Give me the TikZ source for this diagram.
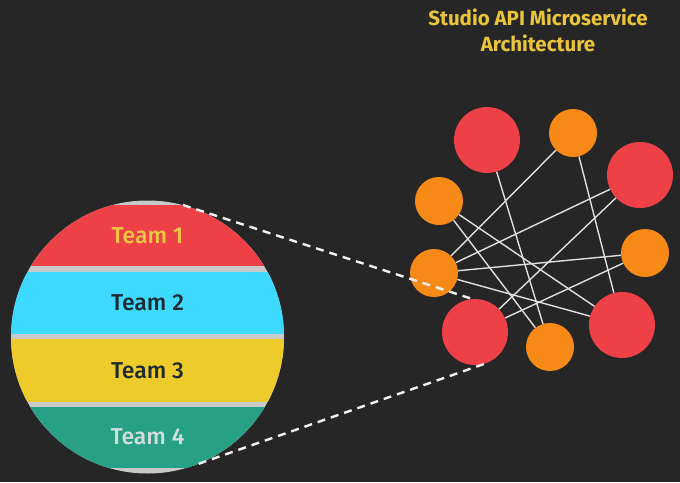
\documentclass[tikz,border=0pt]{standalone}
\usepackage{fontspec}
\setmainfont{Fira Sans}
\newfontfamily\teamfont{Fira Sans Medium}
\usetikzlibrary{positioning}
\definecolor{bgdark}{HTML}{262626}
\definecolor{titleyellow}{HTML}{EAC53A}
\definecolor{svcred}{HTML}{EE4047}
\definecolor{svcorange}{HTML}{F78A17}
\definecolor{bandred}{HTML}{EE4047}
\definecolor{bandcyan}{HTML}{3DD9FF}
\definecolor{bandyellow}{HTML}{ECCB2B}
\definecolor{bandteal}{HTML}{27A086}
\definecolor{sepgray}{HTML}{C9C9C9}
\definecolor{darktext}{HTML}{1E2A30}
\definecolor{paletext}{HTML}{D5DEDC}
\tikzset{bigsvc/.style={circle,fill=svcred,minimum size=66pt,inner sep=0pt}}
\tikzset{smallsvc/.style={circle,fill=svcorange,minimum size=48pt,inner sep=0pt}}
\tikzset{link/.style={draw=white!88!black,line width=1.4pt}}
\tikzset{zoomline/.style={draw=white!95!black,line width=2.4pt,dash pattern=on 8pt off 6pt}}
\tikzset{teamlabel/.style={font=\teamfont\fontsize{23}{26}\selectfont}}
\begin{document}
\begin{tikzpicture}[x=1pt,y=-1pt]
\path[use as bounding box,fill=bgdark] (0,0) rectangle (680,482);
%
\node (title) [align=center,text=titleyellow,font=\bfseries\fontsize{20.5}{26}\selectfont] at (538,30.5) {Studio API Microservice\\Architecture};
% services
\node (s1) [bigsvc] at (487,140) {};
\node (s2) [smallsvc] at (573,133) {};
\node (s3) [bigsvc] at (640,175) {};
\node (s4) [smallsvc] at (439,201) {};
\node (s5) [smallsvc] at (645,253) {};
\node (s6) [smallsvc] at (434,273) {};
\node (s7) [bigsvc] at (475,332) {};
\node (s8) [smallsvc] at (550,347) {};
\node (s9) [bigsvc] at (622,325) {};
%
\path[link] (s1) edge (s8);
\path[link] (s2) edge (s6);
\path[link] (s2) edge (s9);
\path[link] (s3) edge (s6);
\path[link] (s3) edge (s7);
\path[link] (s4) edge (s9);
\path[link] (s4) edge (s8);
\path[link] (s6) edge (s5);
\path[link] (s6) edge (s9);
\path[link] (s5) edge (s7);
% teams
\node (teams) [circle,fill=sepgray,minimum size=273pt,inner sep=0pt] at (147.5,337) {};
\begin{scope}
\clip (teams.center) circle[radius=136.5pt];
\fill[bandred] (0,205) rectangle (300,266);
\fill[bandcyan] (0,272) rectangle (300,334);
\fill[bandyellow] (0,339) rectangle (300,402);
\fill[bandteal] (0,407) rectangle (300,468);
\end{scope}
\node (t1) [teamlabel,text=titleyellow!95!white] at (147.5,236) {Team 1};
\node (t2) [teamlabel,text=darktext] at (147.5,303) {Team 2};
\node (t3) [teamlabel,text=darktext] at (147.5,371) {Team 3};
\node (t4) [teamlabel,text=paletext] at (147.5,437) {Team 4};
%
\path[zoomline] (teams.75) edge (s7.95);
\path[zoomline] (teams.-68) edge (s7.-73);
\end{tikzpicture}
\end{document}
